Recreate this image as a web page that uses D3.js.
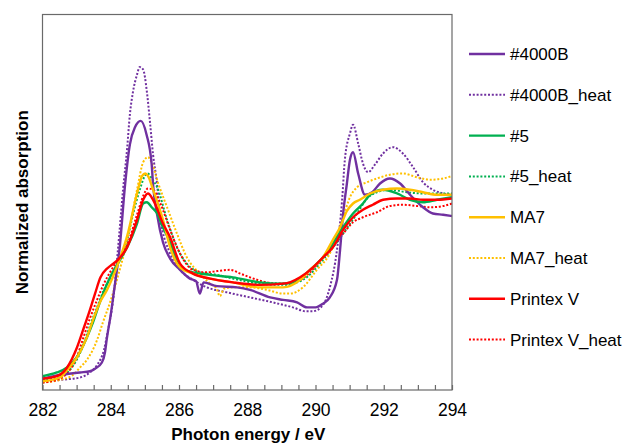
<!DOCTYPE html>
<html>
<head>
<meta charset="utf-8">
<script src="https://cdn.jsdelivr.net/npm/d3@7"></script>
<style>
  body { margin: 0; background: #fff; }
  svg { font-family: "Liberation Sans", Arial, sans-serif; }
</style>
</head>
<body>
<div id="chart"></div>
<script>
// C K-edge spectra as [photon energy (eV), normalized absorption]

const s4000B = [[282.0,0.09],[282.51,0.12],[283.1,0.14],[283.39,0.15],[283.54,0.17],[283.74,0.22],[283.83,0.3],[283.88,0.4],[284.01,0.62],[284.08,0.76],[284.27,1.16],[284.42,1.64],[284.56,1.96],[284.71,2.1],[284.88,2.15],[285.05,2.04],[285.2,1.8],[285.24,1.64],[285.36,1.4],[285.53,1.18],[285.74,1.05],[286.03,0.96],[286.32,0.89],[286.5,0.87],[286.61,0.77],[286.72,0.86],[287.11,0.83],[287.7,0.82],[288.08,0.8],[288.67,0.74],[289.05,0.72],[289.46,0.7],[289.75,0.66],[290.0,0.66],[290.22,0.69],[290.42,0.74],[290.63,0.88],[290.72,1.12],[290.81,1.41],[290.92,1.65],[291.01,1.84],[291.1,1.9],[291.25,1.73],[291.45,1.56],[291.66,1.58],[291.89,1.65],[292.18,1.69],[292.48,1.65],[292.77,1.56],[293.15,1.46],[293.44,1.41],[293.74,1.4],[294.0,1.39]];

const s4000Bheat = [[282.0,0.06],[282.51,0.08],[283.1,0.1],[283.39,0.14],[283.6,0.2],[283.8,0.32],[283.92,0.48],[284.07,0.72],[284.21,1.12],[284.36,1.6],[284.48,1.93],[284.56,2.2],[284.65,2.38],[284.77,2.52],[284.85,2.58],[284.95,2.56],[285.06,2.38],[285.15,2.14],[285.24,1.88],[285.36,1.64],[285.44,1.4],[285.74,1.09],[286.03,0.96],[286.41,0.88],[286.82,0.82],[287.41,0.78],[288.08,0.74],[288.75,0.7],[289.34,0.66],[289.7,0.63],[289.93,0.63],[290.22,0.68],[290.42,0.82],[290.63,1.12],[290.78,1.52],[290.86,1.84],[291.01,2.05],[291.1,2.12],[291.25,1.97],[291.39,1.81],[291.54,1.74],[291.74,1.8],[291.98,1.89],[292.27,1.94],[292.56,1.89],[292.86,1.78],[293.15,1.66],[293.44,1.6],[293.74,1.57],[294.0,1.56]];

const s5 = [[282.0,0.11],[282.42,0.14],[282.72,0.18],[283.0,0.26],[283.3,0.42],[283.48,0.54],[283.68,0.7],[283.98,0.9],[284.27,1.04],[284.48,1.14],[284.77,1.33],[284.95,1.49],[285.06,1.5],[285.2,1.46],[285.36,1.41],[285.53,1.3],[285.74,1.18],[286.03,0.98],[286.41,0.94],[286.91,0.92],[287.58,0.9],[288.37,0.86],[289.05,0.85],[289.55,0.89],[289.84,0.96],[290.22,1.06],[290.51,1.17],[290.81,1.3],[291.1,1.41],[291.39,1.49],[291.6,1.56],[291.98,1.6],[292.39,1.57],[292.77,1.52],[293.15,1.5],[293.56,1.52],[294.0,1.54]];

const s5heat = [[282.0,0.08],[282.5,0.1],[282.8,0.16],[283.0,0.24],[283.2,0.36],[283.4,0.52],[283.6,0.66],[283.8,0.8],[284.0,0.9],[284.27,1.04],[284.48,1.2],[284.65,1.4],[284.85,1.6],[285.0,1.71],[285.09,1.73],[285.2,1.69],[285.36,1.62],[285.65,1.36],[285.94,1.14],[286.23,1.01],[286.61,0.94],[287.11,0.92],[287.58,0.89],[288.37,0.85],[289.05,0.84],[289.63,0.88],[290.22,1.04],[290.81,1.25],[291.22,1.41],[291.51,1.53],[291.8,1.58],[292.18,1.6],[292.68,1.58],[293.15,1.57],[293.65,1.57],[294.0,1.57]];

const sMA7 = [[282.0,0.07],[282.51,0.1],[282.72,0.16],[283.01,0.26],[283.3,0.42],[283.48,0.56],[283.68,0.7],[283.89,0.8],[284.2,1.0],[284.5,1.25],[284.77,1.57],[284.92,1.71],[285.01,1.73],[285.09,1.71],[285.24,1.6],[285.53,1.36],[285.74,1.14],[286.03,0.98],[286.41,0.93],[286.91,0.89],[287.58,0.86],[288.37,0.82],[289.05,0.82],[289.55,0.88],[289.84,0.96],[290.22,1.06],[290.51,1.2],[290.72,1.3],[290.92,1.43],[291.1,1.49],[291.3,1.52],[291.6,1.57],[291.98,1.6],[292.39,1.61],[292.77,1.6],[293.15,1.58],[293.56,1.56],[294.0,1.56]];

const sMA7heat = [[282.0,0.06],[282.5,0.08],[282.89,0.12],[283.1,0.18],[283.3,0.24],[283.6,0.4],[283.77,0.54],[283.98,0.7],[284.18,0.88],[284.5,1.22],[284.77,1.6],[284.95,1.82],[285.09,1.86],[285.22,1.8],[285.38,1.66],[285.65,1.46],[285.94,1.25],[286.23,1.06],[286.61,0.93],[286.91,0.85],[287.1,0.81],[287.2,0.75],[287.32,0.81],[287.58,0.82],[288.08,0.82],[288.58,0.8],[289.05,0.77],[289.25,0.77],[289.63,0.82],[290.04,0.96],[290.42,1.09],[290.81,1.38],[291.01,1.54],[291.22,1.62],[291.51,1.66],[291.8,1.69],[292.18,1.72],[292.56,1.73],[292.97,1.7],[293.36,1.68],[293.74,1.69],[294.0,1.71]];

const sPrintex = [[282.0,0.09],[282.42,0.11],[282.72,0.18],[283.01,0.34],[283.19,0.48],[283.39,0.64],[283.54,0.77],[283.7,0.9],[283.89,0.97],[283.98,0.99],[284.21,1.04],[284.48,1.14],[284.77,1.36],[284.95,1.52],[285.09,1.57],[285.24,1.52],[285.53,1.33],[285.74,1.22],[286.03,1.01],[286.41,0.93],[286.91,0.89],[287.58,0.86],[288.37,0.84],[289.05,0.85],[289.25,0.86],[289.55,0.9],[289.93,0.98],[290.22,1.06],[290.51,1.14],[290.81,1.28],[291.1,1.38],[291.39,1.44],[291.68,1.48],[291.98,1.52],[292.39,1.53],[292.77,1.53],[293.15,1.52],[293.56,1.52],[294.0,1.53]];

const sPrintexHeat = [[282.0,0.06],[282.5,0.09],[282.8,0.16],[283.0,0.26],[283.2,0.42],[283.4,0.58],[283.6,0.72],[283.8,0.85],[284.0,0.95],[284.2,1.04],[284.48,1.16],[284.77,1.4],[284.95,1.55],[285.09,1.61],[285.24,1.6],[285.44,1.5],[285.74,1.28],[286.03,1.09],[286.41,0.96],[286.82,0.94],[287.11,0.95],[287.49,0.96],[287.8,0.93],[288.08,0.9],[288.58,0.86],[289.05,0.85],[289.55,0.88],[289.84,0.94],[290.22,1.06],[290.81,1.25],[291.1,1.34],[291.39,1.38],[291.8,1.42],[292.18,1.47],[292.56,1.48],[292.97,1.47],[293.36,1.46],[293.74,1.47],[294.0,1.49]];

const seriesNames = ['#4000B', '#4000B_heat', '#5', '#5_heat', 'MA7', 'MA7_heat', 'Printex V', 'Printex V_heat'];
const seriesData = [s4000B, s4000Bheat, s5, s5heat, sMA7, sMA7heat, sPrintex, sPrintexHeat];
const seriesColours = ['#7030A0', '#7030A0', '#00B050', '#00B050', '#FFC000', '#FFC000', '#FF0000', '#FF0000'];
const seriesDotted = [false, true, false, true, false, true, false, true];

const xTicks = [282, 284, 286, 288, 290, 292, 294];
const xLabel = 'Photon energy / eV';
const yLabel = 'Normalized absorption';

const width = 626, height = 443;
const plot = { left: 42.5, right: 452, top: 14.5, bottom: 390 };

const svg = d3.select('#chart').append('svg')
  .attr('width', width).attr('height', height);

const x = d3.scaleLinear().domain([282, 294]).range([plot.left, plot.right]);
const y = d3.scaleLinear().domain([0, 3]).range([plot.bottom, plot.top]);

svg.append('defs').append('clipPath').attr('id', 'plotclip')
  .append('rect')
  .attr('x', plot.left).attr('y', plot.top)
  .attr('width', plot.right - plot.left).attr('height', plot.bottom - plot.top);

const line = d3.line()
  .x(d => x(d[0]))
  .y(d => y(d[1]))
  .curve(d3.curveMonotoneX);

// dotted series first so the solid ones sit on top
const order = [1, 3, 5, 7, 0, 2, 4, 6];
const lines = svg.append('g').attr('clip-path', 'url(#plotclip)');
order.forEach(i => {
  lines.append('path')
    .datum(seriesData[i])
    .attr('d', line)
    .attr('fill', 'none')
    .attr('stroke', seriesColours[i])
    .attr('stroke-width', seriesDotted[i] ? 2 : 2.4)
    .attr('stroke-dasharray', seriesDotted[i] ? '2,1.8' : null)
    .attr('stroke-linejoin', 'round');
});

// frame
svg.append('rect')
  .attr('x', plot.left).attr('y', plot.top)
  .attr('width', plot.right - plot.left).attr('height', plot.bottom - plot.top)
  .attr('fill', 'none').attr('stroke', '#6a6a6a').attr('stroke-width', 1.2);

// bottom axis: inward ticks every 0.5 eV, labels every 2 eV
const xAxis = d3.axisBottom(x)
  .tickValues(d3.range(282, 294.01, 0.5))
  .tickSizeInner(-5).tickSizeOuter(0)
  .tickFormat(d => xTicks.includes(d) ? d : '');

const ax = svg.append('g')
  .attr('transform', `translate(0,${plot.bottom})`)
  .call(xAxis);
ax.select('.domain').remove();
ax.selectAll('.tick line').attr('stroke', '#6a6a6a').attr('stroke-width', 1.2);
ax.selectAll('.tick text')
  .attr('y', 26).attr('dy', 0)
  .attr('font-size', 17.5).attr('fill', '#000')
  .attr('font-family', '"Liberation Sans", Arial, sans-serif');

svg.append('text')
  .attr('x', (plot.left + plot.right) / 2 + 1).attr('y', 440)
  .attr('text-anchor', 'middle')
  .attr('font-size', 17).attr('font-weight', 'bold')
  .text(xLabel);

svg.append('text')
  .attr('transform', `translate(28,${(plot.top + plot.bottom) / 2}) rotate(-90)`)
  .attr('text-anchor', 'middle')
  .attr('font-size', 17).attr('font-weight', 'bold')
  .text(yLabel);

// legend
const legend = svg.append('g');
seriesNames.forEach((name, i) => {
  const ly = 54 + i * 40.8;
  legend.append('line')
    .attr('x1', 469).attr('x2', 505)
    .attr('y1', ly).attr('y2', ly)
    .attr('stroke', seriesColours[i])
    .attr('stroke-width', seriesDotted[i] ? 2 : 2.4)
    .attr('stroke-dasharray', seriesDotted[i] ? '2,1.8' : null);
  legend.append('text')
    .attr('x', 510).attr('y', ly + 6)
    .attr('font-size', 17).attr('fill', '#000')
    .text(name);
});
</script>
</body>
</html>
